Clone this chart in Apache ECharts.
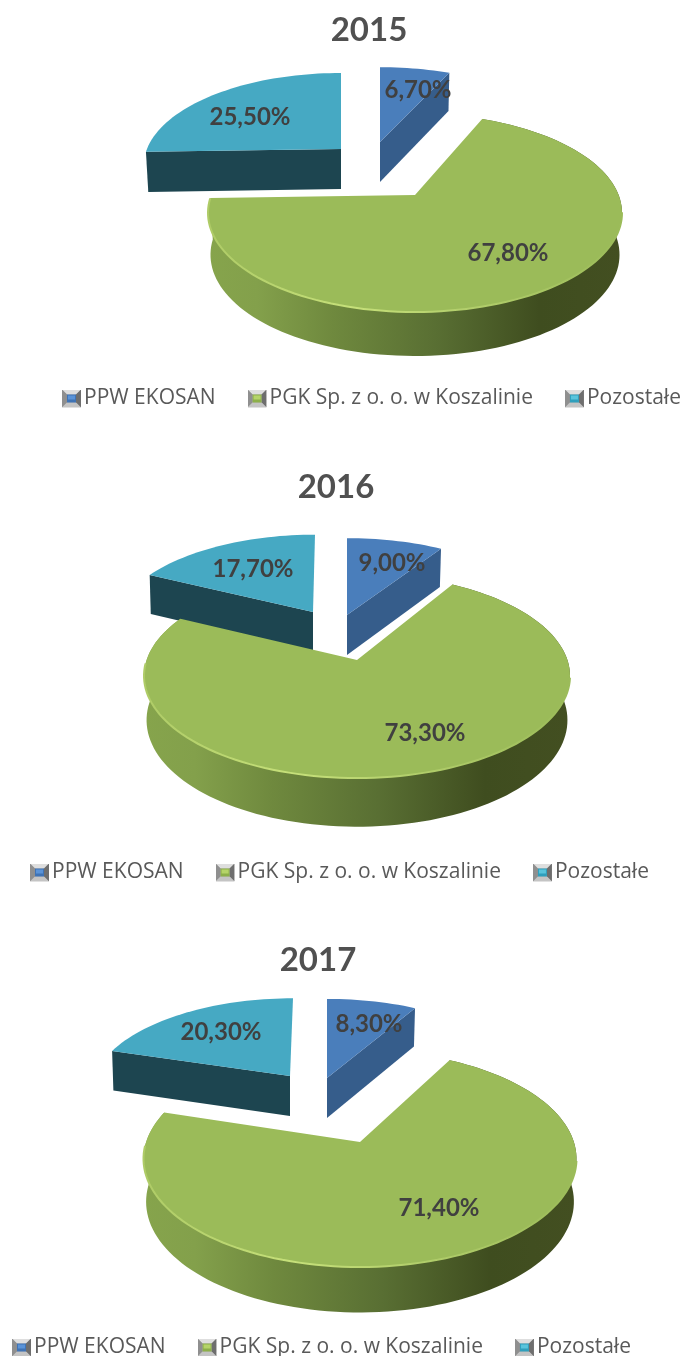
<!DOCTYPE html>
<html><head><meta charset="utf-8">
<style>html,body{margin:0;padding:0;background:#fff}#c{width:683px;height:1356px}</style>
<script src="https://cdn.jsdelivr.net/npm/echarts@6/dist/echarts.min.js"></script>
</head><body><div id="c"></div>
<script>
// ---- data ----
const years = ['2015', '2016', '2017'];
const sliceNames = ['PPW EKOSAN', 'PGK Sp. z o. o. w Koszalinie', 'Pozostałe'];
const ekosan = [6.7, 9.0, 8.3];
const pgk = [67.8, 73.3, 71.4];
const pozostale = [25.5, 17.7, 20.3];

// ---- layout of the three perspective pies (screen px) ----
const layouts = [
 {title:[369,30], legend:[62,397], halfW:207, front:117, p:.18, wall:41.5, taper:.06,
  green:[415,195], blue:[380,142], teal:[341,149], blueS:[.97,.92], tealS:[.953,.935], tilt:0,
  labels:[[418,90],[508,253],[250,117]]},
 {title:[336,487], legend:[30,871], halfW:213, front:118, p:.155, wall:43.5, taper:.12,
  green:[357,660], blue:[347,615], teal:[313,612], blueS:[.943,.89], tealS:[.93,.896], tilt:2,
  labels:[[392,563],[425,733],[253,569]]},
 {title:[318,960], legend:[12,1346], halfW:216.5, front:125, p:.155, wall:42.5, taper:.07,
  green:[360,1142], blue:[327,1078], teal:[290,1076], blueS:[.937,.865], tealS:[.913,.85], tilt:3,
  labels:[[369,1024],[439,1208],[221,1032]]}
];
const sliceWall = 40, sliceTaper = .05, greenStartShift = 1.5;

const C = {
  blue:{top:'#4a7ebb', wall:'#365d8b'},
  teal:{top:'#46a9c3', wall:'#1d4550'},
  green:{top:'#9bbb59'}
};

function icon(c1, c2){
  const svg = `<svg xmlns="http://www.w3.org/2000/svg" width="19" height="18" viewBox="0 0 19 18">
<rect width="19" height="18" fill="#b0b0b0"/>
<polygon points="0,0 19,0 14,5 5,5" fill="#dedede"/>
<polygon points="0,0 5,5 5,13 0,18" fill="#8f8f8f"/>
<polygon points="19,0 14,5 14,13 19,18" fill="#6e6e6e"/>
<polygon points="0,18 5,13 14,13 19,18" fill="#c4c4c4"/>
<rect x="5" y="5" width="9" height="8" fill="${c1}"/><rect x="6" y="6" width="7" height="4" fill="${c2}"/></svg>`;
  return 'image://data:image/svg+xml;charset=utf-8,' + encodeURIComponent(svg);
}
const icons = [icon('#3f73b5','#5a93d8'), icon('#8db04a','#b5d469'), icon('#2f9fbc','#58c4dc')];

function projector(L, cx, cy, sx, sy, wall, taper, tilt){
  const Rx = L.halfW * Math.sqrt(1 - L.p*L.p) * sx;
  const Ry = L.front * (1 - L.p) * sy;
  return function(deg, r, z){
    const a = deg*Math.PI/180, u = Math.sin(a)*r, v = Math.cos(a)*r;
    const w = 1 + L.p*v;
    const k = 1 - .012*z;
    return [cx + Rx*u/w*k + tilt*v*(1-z), cy - Ry*v/w + z*wall*(1 - taper*v)];
  };
}
function arc(P, a0, a1, z){
  const pts = [], n = Math.max(4, Math.ceil(Math.abs(a1-a0)/2));
  for(let i=0;i<=n;i++) pts.push(P(a0+(a1-a0)*i/n, 1, z));
  return pts;
}

function pieSeries(chartIdx, kind, name, values, startValues){
  const L = layouts[chartIdx];
  return {
    type:'custom', name, coordinateSystem:'none', silent:true,
    itemStyle:{color:C[kind].top},
    data:[[values[chartIdx], startValues[chartIdx]]],
    renderItem(params, api){
      const val = api.value(0), st = api.value(1);
      const a0 = st*3.6, a1 = (st+val)*3.6;
      const children = [];
      const labelPos = L.labels[kind==='blue'?0:kind==='green'?1:2];
      if(kind==='green'){
        const P = projector(L, L.green[0], L.green[1], 1, 1, L.wall, L.taper, 0);
        const from = a0 - greenStartShift;
        const wallPts = arc(P,from,a1,0).concat(arc(P,a1,from,1));
        children.push({type:'polygon',shape:{points:wallPts},style:{
          fill:new echarts.graphic.LinearGradient(0,0,1,0,[
            {offset:0,color:'#86a44c'},{offset:.12,color:'#83a04b'},{offset:.3,color:'#6f893e'},
            {offset:.55,color:'#596f33'},{offset:.8,color:'#3f4d1f'},{offset:1,color:'#434f21'}])}});
        const top = [P(0,0,0)].concat(arc(P,from,a1,0));
        children.push({type:'polygon',shape:{points:top},style:{fill:C.green.top}});
        children.push({type:'polyline',shape:{points:arc(P,Math.min(a1,268),100,0)},style:{
          fill:null,lineWidth:2,stroke:new echarts.graphic.LinearGradient(0,0,1,0,[
            {offset:0,color:'#aecb66'},{offset:.35,color:'#c6e07a'},{offset:.6,color:'#b4d06d'},{offset:1,color:'#9bbb59'}])}});
      } else {
        const c = L[kind], s = kind==='blue' ? L.blueS : L.tealS;
        const P = projector(L, c[0], c[1], s[0], s[1], sliceWall, sliceTaper, kind==='teal'?L.tilt:0);
        const edgeAng = kind==='blue' ? a1 : a0;
        const wall = [P(0,0,0),P(edgeAng,1,0),P(edgeAng,1,1),P(0,0,1)];
        children.push({type:'polygon',shape:{points:wall},style:{fill:C[kind].wall}});
        const top = [P(0,0,0)].concat(arc(P,a0,a1,0));
        children.push({type:'polygon',shape:{points:top},style:{fill:C[kind].top}});
      }
      children.push({type:'text',z2:50,x:labelPos[0],y:labelPos[1],style:{
        text:val.toFixed(2).replace('.',',')+'%',align:'center',verticalAlign:'middle',
        font:'bold 24px Lato',fill:'#404040'}});
      return {type:'group',children};
    }
  };
}

const series = [], titles = [], legends = [];
years.forEach((y,i)=>{
  // drawing order: teal, blue, green; clockwise from the top: blue, green, teal
  series.push(pieSeries(i,'teal',sliceNames[2],pozostale,[ekosan[0]+pgk[0],ekosan[1]+pgk[1],ekosan[2]+pgk[2]]));
  series.push(pieSeries(i,'blue',sliceNames[0],ekosan,[0,0,0]));
  series.push(pieSeries(i,'green',sliceNames[1],pgk,ekosan));
  const L = layouts[i];
  titles.push({text:y,left:L.title[0],top:L.title[1],textAlign:'center',textVerticalAlign:'middle',
    padding:0,textStyle:{fontFamily:'Lato',fontWeight:'bold',fontSize:33,color:'#505050'}});
  legends.push({left:L.legend[0],top:L.legend[1]-9,orient:'horizontal',selectedMode:false,padding:0,
    itemWidth:19,itemHeight:18,itemGap:32,
    textStyle:{fontFamily:'Open Sans',fontSize:21,color:'#595959',padding:[0,0,0,-2]},
    data:sliceNames.map((n,k)=>({name:n,icon:icons[k]}))});
});

const chart = echarts.init(document.getElementById('c'),null,{renderer:'canvas'});
chart.setOption({animation:false,backgroundColor:'#fff',title:titles,legend:legends,series});
</script></body></html>
